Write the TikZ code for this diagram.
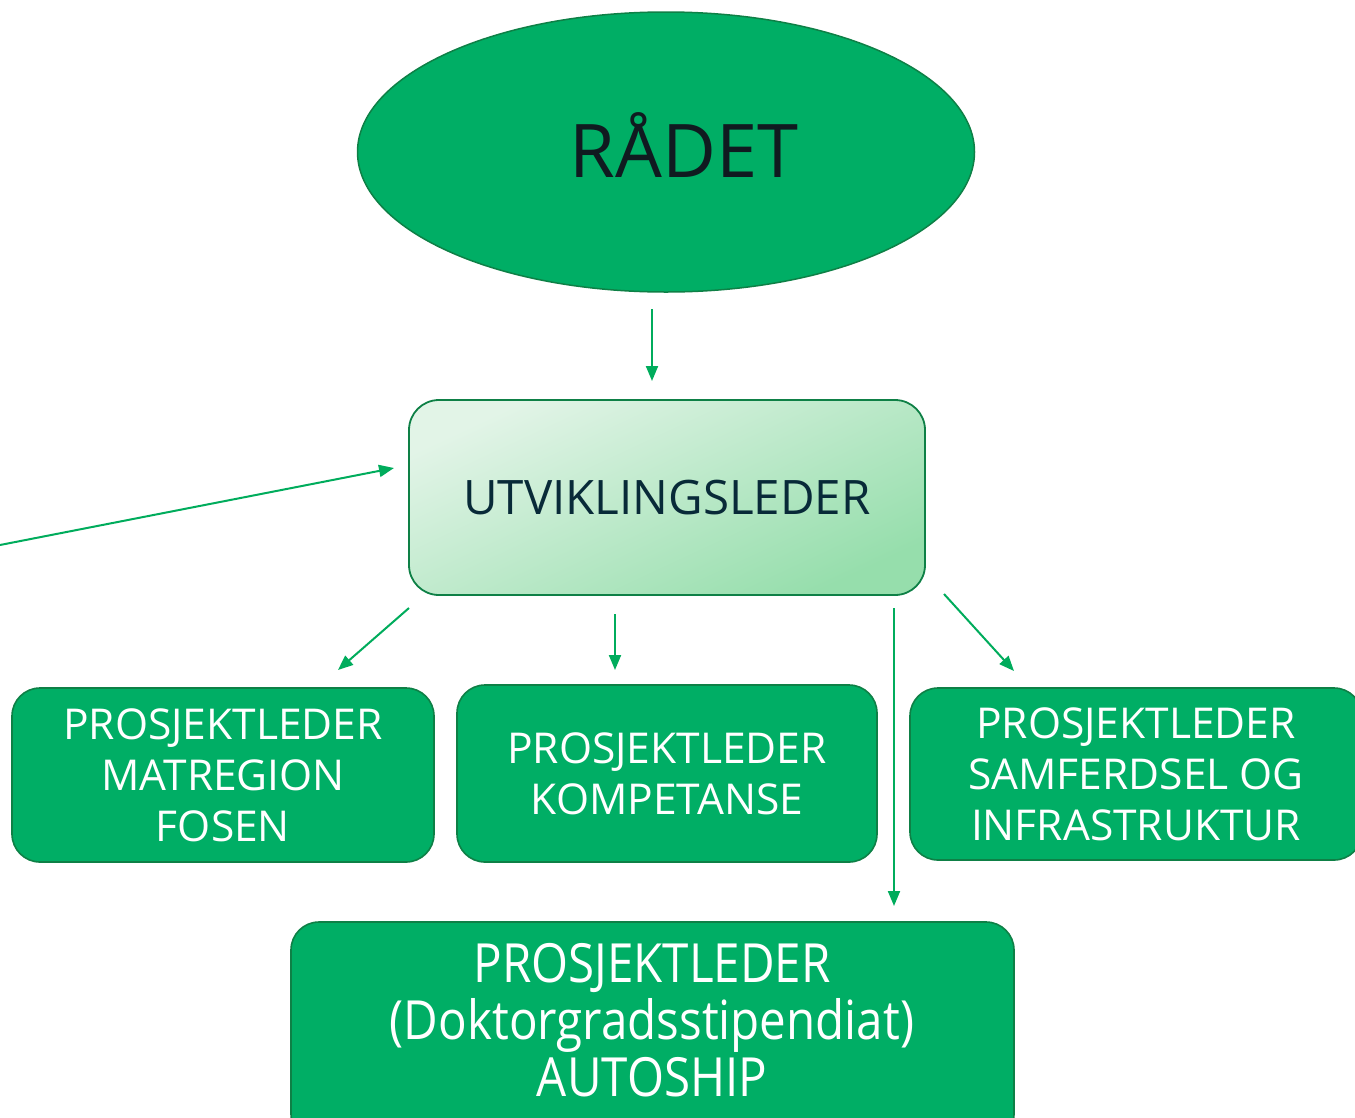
\documentclass[tikz,border=0pt]{standalone}
\usepackage{fontspec}
\setmainfont{Open Sans}
\newfontfamily\condfont[FakeStretch=0.88]{Open Sans}
\usetikzlibrary{arrows.meta,shapes.geometric}
\definecolor{fillg}{RGB}{0,174,101}
\definecolor{edgeg}{RGB}{14,128,70}
\definecolor{arrg}{RGB}{0,172,92}
\definecolor{lightA}{RGB}{226,244,231}
\definecolor{lightB}{RGB}{150,222,172}
\definecolor{utvtext}{RGB}{8,42,56}
\definecolor{radtext}{RGB}{16,26,32}
\tikzset{
  arr/.style={draw=arrg, line width=2pt, -{Triangle[length=15pt,width=12pt]}},
  pbox/.style={draw=edgeg, line width=1.6pt, fill=fillg, rounded corners=28pt, text=white, align=center},
  boxfont/.style={font=\fontsize{42.5}{51}\selectfont},
}
\begin{document}
\begin{tikzpicture}[x=1pt,y=-1pt]
\useasboundingbox (0,0) rectangle (1355,1117);
% top ellipse
\node[ellipse, draw=edgeg, line width=1.5pt, fill=fillg, minimum width=617pt, minimum height=280pt, inner sep=0pt] (rad) at (666,152) {};
\node[text=radtext, font=\fontsize{74}{80}\selectfont, inner sep=0pt, anchor=base] (radt) at (684,177) {RÅDET};
% utviklingsleder
\node[draw=edgeg, line width=1.8pt, rounded corners=30pt, minimum width=516pt, minimum height=195pt,
      top color=lightA, bottom color=lightB, shading angle=25, text=utvtext,
      font=\fontsize{47.5}{56}\selectfont] (utv) at (667,497.5) {UTVIKLINGSLEDER};
% project boxes
\node[pbox, boxfont, minimum width=422pt, minimum height=174pt] (pmat) at (223,775) {PROSJEKTLEDER\\MATREGION\\FOSEN};
\node[pbox, boxfont, minimum width=420pt, minimum height=177pt] (pkom) at (667,773.5) {PROSJEKTLEDER\\KOMPETANSE};
\node[pbox, boxfont, minimum width=452pt, minimum height=172pt] (psam) at (1136,774) {PROSJEKTLEDER\\SAMFERDSEL OG\\INFRASTRUKTUR};
\node[pbox, minimum width=723pt, minimum height=220pt] (paut) at (652.5,1032) {};
\node[text=white, align=center, font=\condfont\fontsize{54}{57}\selectfont, inner sep=0pt] (pautt) at (652,1020) {PROSJEKTLEDER\\(Doktorgradsstipendiat)\\AUTOSHIP};
% arrow end points
\coordinate (a0s) at (652,309);
\coordinate (a0e) at (652,381);
\coordinate (inS) at (0,545);
\coordinate (inE) at (394,468);
\coordinate (a1s) at (409,608);
\coordinate (a1e) at (338,670);
\coordinate (a2s) at (615,614);
\coordinate (a2e) at (615,670);
\coordinate (a3s) at (944,594);
\coordinate (a3e) at (1014,671);
\coordinate (a4s) at (894,608);
\coordinate (a4e) at (894,906);
\draw[arr] (a0s) -- (a0e);
\draw[arr] (inS) -- (inE);
\draw[arr] (a1s) -- (a1e);
\draw[arr] (a2s) -- (a2e);
\draw[arr] (a3s) -- (a3e);
\draw[arr] (a4s) -- (a4e);
\end{tikzpicture}
\end{document}
